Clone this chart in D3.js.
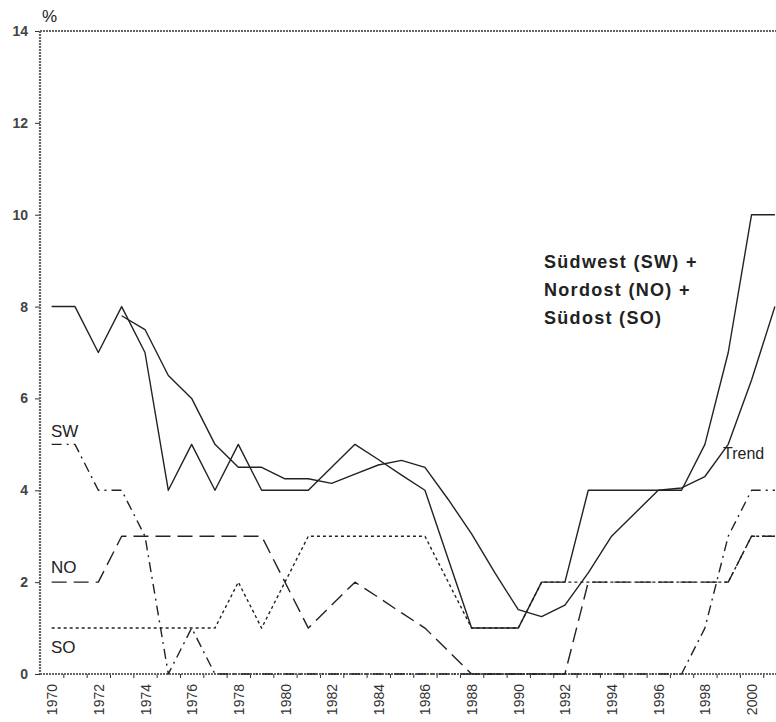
<!DOCTYPE html>
<meta charset="utf-8">
<style>
body{
    margin:0;
    background:#fff;
}
text{
    font-family:"Liberation Sans", Arial, sans-serif;
    fill:#222;
}
.series{
    fill:none;
    stroke:#222;
    stroke-width:1.4px;
    stroke-linejoin:round;
}
.frame{
    stroke:#666;
    stroke-width:2.2px;
    stroke-dasharray:2,1;
}
.axis path{
    display:none;
}
.axis line{
    stroke:#333;
}
.lab{
    font-size:17px;
}
.legend{
    font-size:18px;
    font-weight:bold;
    letter-spacing:1.3px;
}
</style>
<body>
<div id="chart"></div>

<script src="https://cdnjs.cloudflare.com/ajax/libs/d3/7.8.5/d3.min.js"></script>
<script>
var years = [1970,1971,1972,1973,1974,1975,1976,1977,1978,1979,
             1980,1981,1982,1983,1984,1985,1986,1987,1988,1989,
             1990,1991,1992,1993,1994,1995,1996,1997,1998,1999,
             2000,2001];

// SW + NO + SO together
var total = [8,8,7,8,7,4,5,4,5,4,
             4,4,4.5,5,4.67,4.33,4,2.5,1,1,
             1,2,2,4,4,4,4,4,5,7,
             10,10];

var trend = [null,null,null,7.8,7.5,6.5,6.0,5.0,4.5,4.5,
             4.25,4.25,4.15,4.35,4.55,4.65,4.5,3.8,3.05,2.2,
             1.4,1.25,1.5,2.2,3.0,3.5,4.0,4.05,4.3,5.0,
             6.4,8.0];

var sw = [5,5,4,4,3,0,1,0,0,0,
          0,0,0,0,0,0,0,0,0,0,
          0,0,0,0,0,0,0,0,1,3,
          4,4];

var no = [2,2,2,3,3,3,3,3,3,3,
          2,1,1.5,2,1.67,1.33,1,0.5,0,0,
          0,0,0,2,2,2,2,2,2,2,
          3,3];

var so = [1,1,1,1,1,1,1,1,2,1,
          2,3,3,3,3,3,3,2,1,1,
          1,2,2,2,2,2,2,2,2,2,
          3,3];

var yTicks = [0,2,4,6,8,10,12,14];

var W = 776, H = 722;
var mLeft = 40, mTop = 31, mBottom = 674;
var step = 23.33;

var svg = d3.select("#chart").append("svg").attr("width", W).attr("height", H);

// x in years, categories centred between boundary ticks
var x = d3.scaleLinear()
    .domain([years[0] - 0.5, years[years.length - 1] + 0.5])
    .range([mLeft, mLeft + years.length * step]);

var y = d3.scaleLinear().domain([0, 14]).range([mBottom, mTop]);

// y axis ticks + labels
var ya = svg.append("g").attr("class", "axis")
    .attr("transform", "translate(" + mLeft + ",0)")
    .call(d3.axisLeft(y).tickValues(yTicks).tickSize(5).tickPadding(7));
ya.selectAll("text")
    .style("font-size", "14px").style("font-weight", "bold").style("fill", "#444");

// x boundary ticks
var bounds = years.map(function(d){ return d + 0.5; });
svg.append("g").attr("class", "axis")
    .attr("transform", "translate(0," + mBottom + ")")
    .call(d3.axisBottom(x).tickValues(bounds).tickSize(4).tickFormat(""));

// x labels, every second year, rotated
var xl = svg.append("g").attr("class", "axis")
    .attr("transform", "translate(0," + mBottom + ")")
    .call(d3.axisBottom(x).tickValues(years.filter(function(d){ return d % 2 == 0; }))
        .tickSize(0).tickFormat(d3.format("d")));
xl.selectAll("text")
    .attr("transform", "rotate(-90)")
    .attr("x", -10).attr("y", 0).attr("dy", "0.36em")
    .style("text-anchor", "end")
    .style("font-size", "14px")
    .style("fill", "#333");

// frame: left axis, top border, baseline
svg.append("line").attr("class", "frame")
    .attr("x1", mLeft).attr("x2", mLeft).attr("y1", mTop).attr("y2", mBottom);
svg.append("line").attr("class", "frame")
    .attr("x1", mLeft).attr("x2", W).attr("y1", mTop).attr("y2", mTop);
svg.append("line").attr("class", "frame")
    .attr("x1", mLeft).attr("x2", W).attr("y1", mBottom).attr("y2", mBottom);

var line = d3.line()
    .defined(function(d){ return d[1] != null; })
    .x(function(d){ return x(d[0]); })
    .y(function(d){ return y(d[1]); });

function draw(vals, dash){
    svg.append("path").attr("class", "series")
        .attr("d", line(years.map(function(yr, i){ return [yr, vals[i]]; })))
        .style("stroke-dasharray", dash);
}

draw(sw, "10,5,2,5");
draw(no, "15,7");
draw(so, "3,3");
draw(trend, null);
draw(total, null);

svg.append("text").attr("class", "lab").attr("x", 42).attr("y", 22).text("%");
svg.append("text").attr("class", "lab").attr("x", 51).attr("y", 437).text("SW");
svg.append("text").attr("class", "lab").attr("x", 51).attr("y", 573).text("NO");
svg.append("text").attr("class", "lab").attr("x", 51).attr("y", 653).text("SO");
svg.append("text").attr("class", "lab").attr("x", 723).attr("y", 459)
    .style("font-size", "16px").text("Trend");

var legend = ["Südwest (SW) +", "Nordost (NO) +", "Südost (SO)"];
svg.selectAll(".legend").data(legend).enter().append("text")
    .attr("class", "legend")
    .attr("x", 544)
    .attr("y", function(d, i){ return 268 + i * 28; })
    .text(function(d){ return d; });
</script>
</body>
</html>
